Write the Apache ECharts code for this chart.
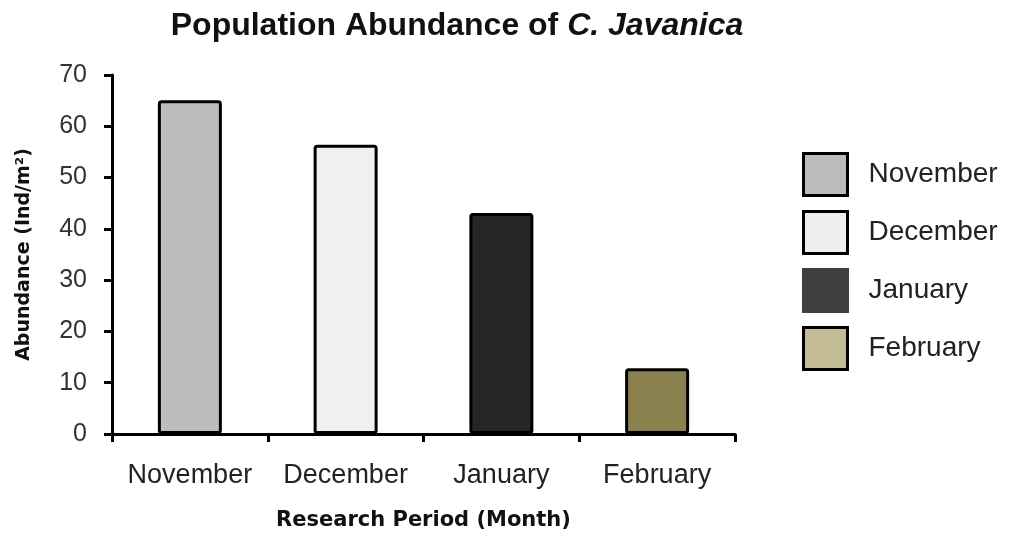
<!DOCTYPE html>
<html>
<head>
<meta charset="utf-8">
<script src="https://cdn.jsdelivr.net/npm/echarts@6/dist/echarts.min.js"></script>
<style>
  html, body { margin: 0; padding: 0; background: #fff; }
  #chart { width: 1011px; height: 533px; }
</style>
</head>
<body>
<div id="chart"></div>
<script>
const months = ['November', 'December', 'January', 'February'];
const abundance = [65.1, 56.4, 43.1, 12.8];
const barColors = ['#bdbdbd', '#f0f0f0', '#262626', '#8b814f'];
const legendColors = ['#bcbcbc', '#efefef', '#3f3f3f', '#c3bb95'];
const yTicks = [0, 10, 20, 30, 40, 50, 60, 70];

const chart = echarts.init(document.getElementById('chart'));

// one series per month so the legend gets one entry each
const series = months.map((m, i) => ({
    name: m,
    type: 'bar',
    stack: 'all',
    barWidth: 64,
    data: months.map((_, j) => (j === i ? abundance[i] : '-')),
    itemStyle: {
        color: barColors[i],
        borderColor: '#000',
        borderWidth: 3,
        borderRadius: 2
    }
}));

const option = {
    backgroundColor: '#fff',
    animation: false,
    title: {
        text: '{b|Population Abundance of }{i|C. Javanica}',
        left: 452,
        textAlign: 'center',
        top: 5,
        textStyle: {
            rich: {
                b: { fontFamily: 'Liberation Sans', fontWeight: 'bold', fontSize: 32, color: '#111' },
                i: { fontFamily: 'Liberation Sans', fontWeight: 'bold', fontStyle: 'italic', fontSize: 32, color: '#111' }
            }
        }
    },
    legend: {
        orient: 'vertical',
        left: 797,
        top: 147,
        itemWidth: 44,
        itemHeight: 42,
        itemGap: 13,
        icon: 'rect',
        data: months.map((m, i) => ({
            name: m,
            itemStyle: {
                color: legendColors[i],
                borderColor: i === 2 ? legendColors[i] : '#000',
                borderWidth: 3
            }
        })),
        textStyle: {
            fontFamily: 'Liberation Sans',
            fontSize: 28,
            color: '#222',
            padding: [0, 0, 0, 16]
        }
    },
    grid: {
        left: 112,
        right: 276,
        top: 75,
        bottom: 99,
        outerBoundsMode: 'none'
    },
    xAxis: {
        type: 'category',
        data: months,
        name: 'Research Period (Month)',
        nameLocation: 'middle',
        nameGap: 76,
        nameTextStyle: {
            fontFamily: 'DejaVu Sans',
            fontWeight: 'bold',
            fontSize: 21,
            color: '#111'
        },
        axisLine: { show: true, lineStyle: { color: '#000', width: 3 } },
        axisTick: {
            show: true,
            interval: 0,
            alignWithLabel: false,
            length: 8,
            lineStyle: { color: '#000', width: 3 }
        },
        axisLabel: {
            interval: 0,
            fontFamily: 'Liberation Sans',
            fontSize: 27,
            color: '#222',
            margin: 28
        }
    },
    yAxis: {
        type: 'value',
        min: yTicks[0],
        max: yTicks[yTicks.length - 1],
        interval: 10,
        name: 'Abundance (Ind/m²)',
        nameLocation: 'middle',
        nameGap: 78,
        nameTextStyle: {
            fontFamily: 'DejaVu Sans',
            fontWeight: 'bold',
            fontSize: 19,
            color: '#111'
        },
        axisLine: { show: true, lineStyle: { color: '#000', width: 3 } },
        axisTick: { show: true, length: 8, lineStyle: { color: '#000', width: 3 } },
        splitLine: { show: false },
        axisLabel: {
            fontFamily: 'Liberation Sans',
            fontSize: 25,
            color: '#333',
            margin: 25
        }
    },
    series: series
};

chart.setOption(option);
</script>
</body>
</html>
